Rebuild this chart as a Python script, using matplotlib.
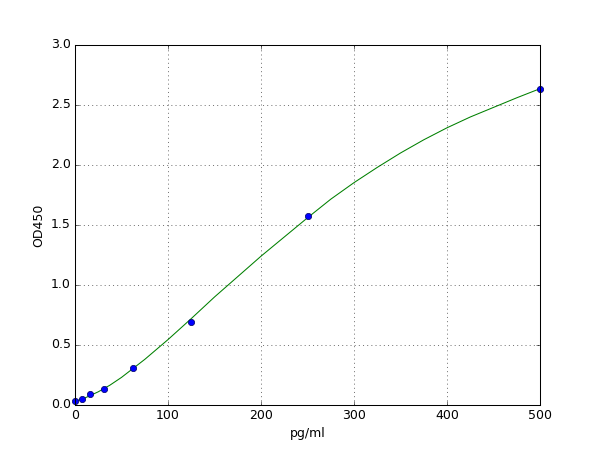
import matplotlib
matplotlib.use("Agg")
import matplotlib.pyplot as plt

# standard points (pg/ml vs OD450)
conc = [0, 7.8, 15.6, 31.25, 62.5, 125, 250, 500]
od = [0.036, 0.05, 0.089, 0.136, 0.306, 0.69, 1.575, 2.636]

# fitted curve
curve_x = [0, 12.5, 25, 37.5, 50, 75, 100, 125, 150, 175, 200, 225, 250,
           275, 300, 325, 350, 375, 400, 425, 450, 475, 500]
curve_y = [0.03, 0.065, 0.11, 0.165, 0.23, 0.38, 0.545, 0.72, 0.90, 1.07,
           1.24, 1.40, 1.56, 1.715, 1.853, 1.98, 2.10, 2.21, 2.31, 2.40,
           2.48, 2.56, 2.636]

plt.style.use("classic")
fig, ax = plt.subplots(figsize=(8, 6), dpi=75, facecolor="white")

ax.plot(curve_x, curve_y, color="g", lw=1)
ax.plot(conc, od, "o", color="b", mec="#000066", mew=0.7, ms=6, clip_on=False)

ax.set_xlim(0, 500)
ax.set_ylim(0, 3.0)
ax.set_yticks([0.0, 0.5, 1.0, 1.5, 2.0, 2.5, 3.0])
ax.yaxis.set_major_formatter(matplotlib.ticker.FormatStrFormatter("%.1f"))
ax.grid(True, linestyle=":", color="k", lw=0.5)
ax.set_xlabel("pg/ml")
ax.set_ylabel("OD450")

fig.savefig("out.png", dpi=75, facecolor="white")
